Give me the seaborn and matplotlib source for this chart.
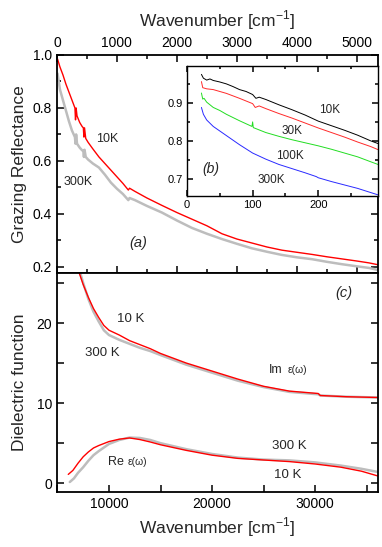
import matplotlib
matplotlib.use('Agg')
import matplotlib.pyplot as plt
import seaborn as sns
from matplotlib.ticker import MultipleLocator

sns.set_style('ticks')
plt.rcParams['font.family'] = ['Liberation Sans', 'DejaVu Sans']
plt.rcParams['mathtext.fontset'] = 'custom'
plt.rcParams['mathtext.rm'] = 'Liberation Sans'

# (a) grazing reflectance vs wavenumber
wn_a = [10, 50, 100, 150, 200, 250, 300, 310, 320, 335, 380, 420, 440, 450, 460, 480, 520,
        600, 700, 800, 900, 1000, 1100, 1190, 1210, 1300, 1500, 1750, 2000, 2250, 2500,
        2750, 3000, 3250, 3500, 3750, 4000, 4250, 4500, 4750, 5000, 5200, 5350]
refl_10k = [0.985, 0.955, 0.925, 0.89, 0.86, 0.83, 0.80, 0.755, 0.80, 0.77, 0.745, 0.73,
            0.725, 0.69, 0.725, 0.685, 0.67, 0.645, 0.615, 0.59, 0.565, 0.54, 0.515, 0.49,
            0.497, 0.485, 0.46, 0.432, 0.405, 0.38, 0.355, 0.325, 0.305, 0.29, 0.275,
            0.263, 0.255, 0.247, 0.238, 0.23, 0.222, 0.215, 0.208]
refl_300k = [0.93, 0.87, 0.83, 0.79, 0.75, 0.715, 0.69, 0.665, 0.70, 0.665, 0.65, 0.64,
             0.638, 0.615, 0.642, 0.615, 0.605, 0.59, 0.575, 0.548, 0.518, 0.495, 0.475,
             0.452, 0.46, 0.452, 0.43, 0.405, 0.375, 0.347, 0.325, 0.305, 0.287, 0.27,
             0.257, 0.245, 0.236, 0.229, 0.219, 0.21, 0.202, 0.196, 0.188]

# (b) inset, low-frequency reflectance at four temperatures
wn_b_10 = [22, 25, 30, 35, 40, 50, 60, 70, 80, 90, 100, 105, 110, 120, 140, 160, 180, 200,
           220, 240, 260, 280, 291]
r_b_10 = [0.975, 0.965, 0.96, 0.963, 0.959, 0.955, 0.95, 0.943, 0.935, 0.93, 0.922, 0.912,
          0.915, 0.909, 0.895, 0.882, 0.868, 0.852, 0.84, 0.828, 0.815, 0.80, 0.793]
wn_b_30 = [22, 24, 30, 40, 50, 60, 80, 100, 104, 110, 120, 140, 160, 180, 200, 220, 240,
           260, 280, 291]
r_b_30 = [0.956, 0.94, 0.937, 0.935, 0.93, 0.925, 0.912, 0.898, 0.888, 0.892, 0.885, 0.872,
          0.86, 0.847, 0.834, 0.822, 0.81, 0.797, 0.785, 0.777]
wn_b_100 = [22, 24, 26, 30, 40, 50, 60, 80, 99, 100, 101, 120, 140, 160, 180, 200, 220,
            240, 260, 280, 291]
r_b_100 = [0.926, 0.91, 0.912, 0.902, 0.888, 0.88, 0.87, 0.853, 0.838, 0.85, 0.835, 0.822,
           0.812, 0.803, 0.795, 0.787, 0.778, 0.768, 0.758, 0.745, 0.738]
wn_b_300 = [22, 25, 30, 40, 50, 65, 80, 100, 120, 140, 160, 180, 197, 200, 220, 240, 260,
            280, 291]
r_b_300 = [0.888, 0.87, 0.855, 0.838, 0.826, 0.808, 0.79, 0.768, 0.752, 0.738, 0.727,
           0.716, 0.706, 0.703, 0.693, 0.684, 0.675, 0.664, 0.658]

# (c) dielectric function
wn_im_10 = [7100, 7500, 8000, 8500, 9000, 9500, 10000, 11000, 12000, 13000, 14000, 15000,
            17500, 20000, 22500, 25000, 27500, 30300, 30500, 33000, 36100]
im_10k = [26.3, 24.8, 23.2, 21.8, 20.7, 19.7, 19.1, 18.5, 17.8, 17.3, 16.8, 16.2, 15.0,
          14.0, 13.0, 12.1, 11.5, 11.2, 10.95, 10.8, 10.7]
wn_im_300 = [7200, 7500, 8000, 8500, 9000, 9500, 10000, 11000, 12000, 13000, 14000, 15000,
             17500, 20000, 22500, 25000, 27500, 30300, 30500, 33000, 36100]
im_300k = [26.3, 25.0, 23.0, 21.4, 20.2, 19.1, 18.5, 17.9, 17.4, 16.9, 16.5, 16.0, 14.8,
           13.8, 12.8, 12.0, 11.4, 11.1, 10.95, 10.8, 10.7]
wn_re_10 = [6050, 6500, 7000, 7500, 8000, 8500, 9000, 10000, 11000, 12000, 13000, 14000,
            15000, 17500, 20000, 22500, 25000, 27500, 30000, 32500, 34500, 36100]
re_10k = [1.1, 1.6, 2.5, 3.3, 3.9, 4.4, 4.7, 5.2, 5.5, 5.65, 5.45, 5.15, 4.8, 4.1, 3.5,
          3.1, 2.9, 2.7, 2.4, 2.0, 1.5, 0.9]
wn_re_300 = [6200, 6600, 7000, 7500, 8000, 8500, 9000, 10000, 11000, 12000, 13000, 14000,
             15000, 17500, 20000, 22500, 25000, 27500, 30000, 32500, 34500, 36100]
re_300k = [0.15, 0.6, 1.3, 2.0, 2.8, 3.5, 4.0, 4.9, 5.4, 5.7, 5.65, 5.4, 5.0, 4.25, 3.65,
           3.2, 2.95, 2.85, 2.6, 2.2, 1.8, 1.4]

RED = '#ff0000'
GRAY = '#bdbdbd'

fig = plt.figure(figsize=(3.82, 5.47), dpi=100)
ax_a = fig.add_axes([0.149, 0.501, 0.8405, 0.3985])
ax_c = fig.add_axes([0.149, 0.1005, 0.8405, 0.4005])
ax_b = fig.add_axes([0.4895, 0.6417, 0.5, 0.2376])


def style(ax, lab=10):
    for s in ax.spines.values():
        s.set_linewidth(1.3)
        s.set_color('black')
    ax.tick_params(which='both', direction='in', width=1.1, labelsize=lab, colors='black')
    ax.tick_params(which='major', length=5)
    ax.tick_params(which='minor', length=3)


# panel (a)
sns.lineplot(x=wn_a, y=refl_300k, ax=ax_a, color=GRAY, lw=1.8, sort=False, estimator=None)
sns.lineplot(x=wn_a, y=refl_10k, ax=ax_a, color=RED, lw=1.0, sort=False, estimator=None)
ax_a.set_xlim(0, 5350)
ax_a.set_ylim(0.177, 1.0)
ax_a.xaxis.set_major_locator(MultipleLocator(1000))
ax_a.xaxis.set_minor_locator(MultipleLocator(500))
ax_a.yaxis.set_major_locator(MultipleLocator(0.2))
ax_a.yaxis.set_minor_locator(MultipleLocator(0.1))
ax_a.yaxis.set_major_formatter(lambda v, p: f'{v:.1f}')
style(ax_a)
ax_a.tick_params(which='both', top=True, bottom=True, right=True,
                 labeltop=True, labelbottom=False)
ax_a.xaxis.set_label_position('top')
ax_a.set_xlabel('Wavenumber [cm$^{-1}$]', fontsize=12.5, labelpad=7)
ax_a.set_ylabel('Grazing Reflectance', fontsize=12.5, labelpad=4)
ax_a.text(660, 0.682, '10K', fontsize=9, va='center')
ax_a.text(115, 0.52, '300K', fontsize=9, va='center')
ax_a.text(1350, 0.29, '(a)', fontsize=10.5, style='italic', ha='center', va='center')

# inset (b)
sns.lineplot(x=wn_b_10, y=r_b_10, ax=ax_b, color='black', lw=0.7, sort=False, estimator=None)
sns.lineplot(x=wn_b_30, y=r_b_30, ax=ax_b, color='#ff2a2a', lw=0.7, sort=False, estimator=None)
sns.lineplot(x=wn_b_100, y=r_b_100, ax=ax_b, color='#22dd22', lw=0.7, sort=False, estimator=None)
sns.lineplot(x=wn_b_300, y=r_b_300, ax=ax_b, color='#2a2aff', lw=0.7, sort=False, estimator=None)
ax_b.set_xlim(0, 291)
ax_b.set_ylim(0.655, 0.997)
ax_b.xaxis.set_major_locator(MultipleLocator(100))
ax_b.xaxis.set_minor_locator(MultipleLocator(50))
ax_b.yaxis.set_major_locator(MultipleLocator(0.1))
ax_b.yaxis.set_minor_locator(MultipleLocator(0.05))
ax_b.yaxis.set_major_formatter(lambda v, p: f'{v:.1f}')
style(ax_b, lab=8)
ax_b.tick_params(which='both', top=True, right=True, pad=3)
ax_b.tick_params(which='major', length=4)
ax_b.tick_params(which='minor', length=2.5)
for s in ax_b.spines.values():
    s.set_linewidth(1.0)
ax_b.set_xlabel('')
ax_b.set_ylabel('')
ax_b.text(201, 0.882, '10K', fontsize=8.5, va='center')
ax_b.text(144, 0.826, '30K', fontsize=8.5, va='center')
ax_b.text(136, 0.760, '100K', fontsize=8.5, va='center')
ax_b.text(107, 0.697, '300K', fontsize=8.5, va='center')
ax_b.text(24, 0.726, '(b)', fontsize=10, style='italic', va='center')

# panel (c)
sns.lineplot(x=wn_im_300, y=im_300k, ax=ax_c, color=GRAY, lw=1.8, sort=False, estimator=None)
sns.lineplot(x=wn_im_10, y=im_10k, ax=ax_c, color=RED, lw=1.0, sort=False, estimator=None)
sns.lineplot(x=wn_re_300, y=re_300k, ax=ax_c, color=GRAY, lw=1.8, sort=False, estimator=None)
sns.lineplot(x=wn_re_10, y=re_10k, ax=ax_c, color=RED, lw=1.0, sort=False, estimator=None)
ax_c.set_xlim(4950, 36100)
ax_c.set_ylim(-1.1, 26.25)
ax_c.xaxis.set_major_locator(MultipleLocator(10000))
ax_c.xaxis.set_minor_locator(MultipleLocator(5000))
ax_c.yaxis.set_major_locator(MultipleLocator(10))
ax_c.yaxis.set_minor_locator(MultipleLocator(5))
style(ax_c)
ax_c.tick_params(which='minor', length=5)
ax_c.tick_params(which='both', top=False, right=True)
ax_c.set_xlabel('Wavenumber [cm$^{-1}$]', fontsize=12.5, labelpad=3)
ax_c.set_ylabel('Dielectric function', fontsize=12.5, labelpad=7)
ax_c.text(33600, 23.75, '(c)', fontsize=10.5, style='italic', ha='right', va='center')
ax_c.text(10775, 20.5, '10 K', fontsize=9.5, va='center')
ax_c.text(7670, 16.25, '300 K', fontsize=9.5, va='center')
ax_c.text(25530, 14.1, 'Im', fontsize=9, va='center')
ax_c.text(27300, 14.1, 'ε(ω)', fontsize=7.5, va='center')
ax_c.text(9900, 2.6, 'Re', fontsize=9, va='center')
ax_c.text(11850, 2.6, 'ε(ω)', fontsize=7.5, va='center')
ax_c.text(25800, 4.6, '300 K', fontsize=9.5, va='center')
ax_c.text(26000, 1.0, '10 K', fontsize=9.5, va='center')

fig.savefig('out.png', dpi=100)
